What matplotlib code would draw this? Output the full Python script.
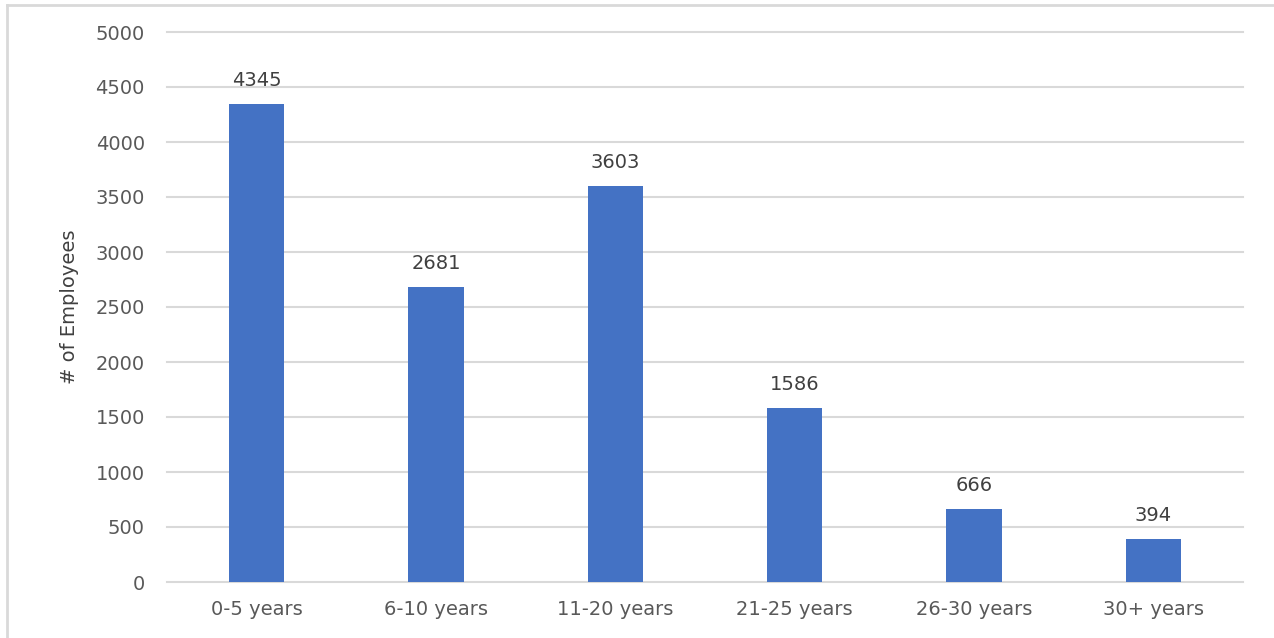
import matplotlib
matplotlib.use("Agg")
import matplotlib.pyplot as plt
from matplotlib.lines import Line2D

categories = ["0-5 years", "6-10 years", "11-20 years", "21-25 years", "26-30 years", "30+ years"]
employees = [4345, 2681, 3603, 1586, 666, 394]
yticks = [0, 500, 1000, 1500, 2000, 2500, 3000, 3500, 4000, 4500, 5000]

text_gray = "#595959"
grid_gray = "#d9d9d9"
bar_blue = "#4472c4"

plt.rcParams["font.family"] = ["DejaVu Sans"]

W, H = 1274, 638
fig = plt.figure(figsize=(W / 100, H / 100), dpi=100)
ax = fig.add_axes([167 / W, 1 - 582 / H, (1243 - 167) / W, (582 - 32) / H])

x = list(range(len(categories)))
bars = ax.bar(x, employees, width=0.31, color=bar_blue, zorder=3)

for b, v in zip(bars, employees):
    ax.annotate(str(v), (b.get_x() + b.get_width() / 2, v), xytext=(0, 10),
                textcoords="offset points", ha="center", va="bottom",
                fontsize=14, color="#404040")

ax.set_xlim(-0.5, len(categories) - 0.5)
ax.set_ylim(0, 5000)
ax.set_yticks(yticks)
ax.set_xticks(x)
ax.set_xticklabels(categories)
ax.tick_params(axis="both", length=0, labelsize=14, labelcolor=text_gray)
ax.tick_params(axis="y", pad=16)
ax.tick_params(axis="x", pad=13)
ax.grid(axis="y", color=grid_gray, linewidth=1.5, zorder=0)
# keep the 0 and 5000 gridlines at full width
for gl in ax.get_ygridlines():
    gl.set_clip_on(False)
for side in ["top", "right", "left", "bottom"]:
    ax.spines[side].set_visible(False)

ax.set_ylabel("# of Employees", fontsize=14, color="#404040", labelpad=12)

# light frame along the left and top edges
fig.add_artist(Line2D([7 / W, 7 / W], [0, 1 - 5 / H], transform=fig.transFigure,
                      color=grid_gray, linewidth=2))
fig.add_artist(Line2D([7 / W, 1], [1 - 5 / H, 1 - 5 / H], transform=fig.transFigure,
                      color=grid_gray, linewidth=2))

fig.savefig("out.png", dpi=100)
